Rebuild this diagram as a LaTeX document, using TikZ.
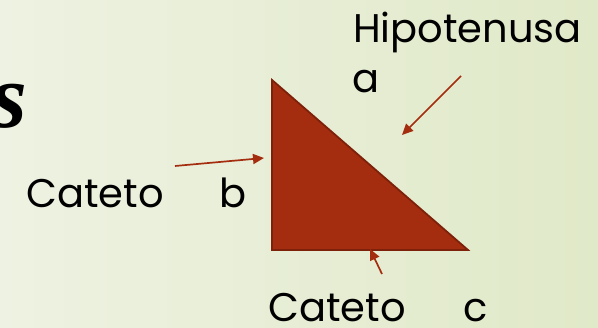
\documentclass[tikz,border=0pt]{standalone}
\usepackage{fontspec}
\setmainfont{Poppins}
\newfontfamily\titlefont{Liberation Serif}
\definecolor{bgL}{RGB}{238,242,226}
\definecolor{bgR}{RGB}{224,233,200}
\definecolor{tri}{RGB}{165,45,15}
\definecolor{triedge}{RGB}{125,33,10}
\usetikzlibrary{arrows.meta}
\tikzset{
  lbl/.style={anchor=base west, inner sep=0pt, text depth=0pt, font=\fontsize{40}{40}\selectfont, text=black},
  ptr/.style={draw=tri, line width=1.7pt, -{Triangle[length=11pt,width=10pt]}},
}
\begin{document}
\begin{tikzpicture}[x=1pt,y=-1pt]
\useasboundingbox (0,0) rectangle (598,328);
\shade[left color=bgL, right color=bgR] (0,0) rectangle (598,328);
% title fragment
\node[anchor=base west, inner sep=0pt, text depth=0pt, font=\titlefont\bfseries\itshape\fontsize{92}{92}\selectfont] (title) at (-9,128) {s};
% triangle
\coordinate (A) at (272,80);
\coordinate (B) at (272,250);
\coordinate (C) at (468,250);
\draw[fill=tri, draw=triedge, line width=1.8pt, line join=miter] (A) -- (B) -- (C) -- cycle;
% labels
\node[lbl] (hip) at (353,43) {Hipotenusa};
\node[lbl] (la) at (352,93) {a};
\node[lbl] (cb) at (26,208) {Cateto};
\node[lbl] (lb) at (219,208) {b};
\node[lbl] (cc) at (268,322) {Cateto};
\node[lbl] (lc) at (463,322) {c};
% arrows
\coordinate (a0) at (461,76);
\coordinate (a1) at (402,135);
\coordinate (b0) at (175,166);
\coordinate (b1) at (264,158);
\coordinate (c0) at (382,274);
\coordinate (c1) at (370,249);
\draw[ptr] (a0) -- (a1);
\draw[ptr] (b0) -- (b1);
\draw[ptr] (c0) -- (c1);
\end{tikzpicture}
\end{document}
